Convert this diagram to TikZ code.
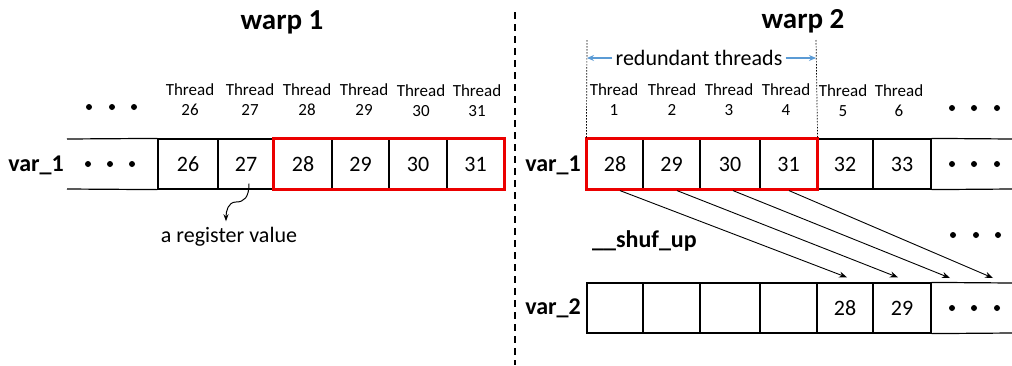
\documentclass[tikz,border=0pt]{standalone}
\usepackage{fontspec}
\setmainfont{Carlito}
\usetikzlibrary{arrows.meta,calc}
\definecolor{bluearr}{RGB}{91,155,213}
\definecolor{redbox}{RGB}{235,0,0}
\begin{document}
\begin{tikzpicture}[x=1pt,y=-1pt,
  cell/.style={draw, line width=1.2pt, minimum height=50pt, inner sep=0pt, font=\fontsize{22}{24}\selectfont},
  thr/.style={align=center, font=\fontsize{17}{20}\selectfont, inner sep=0pt},
  title/.style={font=\fontsize{29}{32}\selectfont\bfseries, inner sep=0pt},
  varlab/.style={font=\fontsize{24}{26}\selectfont\bfseries, inner sep=0pt},
  plain/.style={font=\fontsize{22}{24}\selectfont, inner sep=0pt},
  rowline/.style={line width=1.2pt},
  redframe/.style={draw=redbox, line width=2.6pt},
  shuf/.style={-{Stealth[length=8pt,width=6pt]}, line width=0.9pt},
  bluear/.style={-{Stealth[length=7pt,width=6pt]}, draw=bluearr, line width=1.2pt},
  dotdiv/.style={dash pattern=on 1.5pt off 1.5pt, line width=0.7pt},
  dot/.style={fill=black}
]
\useasboundingbox (0,0) rectangle (1012,365);

% ---------- warp 1 ----------
\node[title] (w1) at (282,22) {warp 1};
\node[varlab, anchor=east] (lv1) at (64,165) {var\_1};

\node[cell, minimum width=60pt] (c26) at (188,164) {26};
\node[cell, minimum width=56pt] (c27) at (246,164) {27};
\node[cell, minimum width=58pt] (c28) at (303,164) {28};
\node[cell, minimum width=57pt] (c29) at (360.5,164) {29};
\node[cell, minimum width=58pt] (c30) at (418,164) {30};
\node[cell, minimum width=57pt] (c31) at (475.5,164) {31};
\draw[redframe] (c28.north west) rectangle (c31.south east);
\coordinate (lstartT) at (67,139);
\coordinate (lstartB) at (67,189);
\draw[rowline] (lstartT) -- (c26.north west);
\draw[rowline] (lstartB) -- (c26.south west);

\node[thr] (t26) at (190,100) {Thread\\26};
\node[thr] (t27) at (250,100) {Thread\\27};
\node[thr] (t28) at (307,100) {Thread\\28};
\node[thr] (t29) at (364,100) {Thread\\29};
\node[thr] (t30) at (421,101) {Thread\\30};
\node[thr] (t31) at (477,101) {Thread\\31};

\foreach \x in {89,112,134} \fill[dot] (\x,107) circle (3);
\foreach \x in {88,110,132} \fill[dot] (\x,164) circle (3);

\node[plain] (reg) at (229,237) {a register value};
\draw[-{Stealth[length=7pt,width=5pt]}, line width=1pt] ($(c27.south)+(3,-6)$)
  .. controls +(0,14) and +(8,0) .. (236,202)
  .. controls +(-8,0) and +(0,-10) .. ($(reg.north)+(-3,-6)$);

% ---------- divider ----------
\coordinate (dtop) at (515,12);
\coordinate (dbot) at (515,365);
\draw[dash pattern=on 7pt off 5pt, line width=1.3pt] (dtop) -- (dbot);

% ---------- warp 2 ----------
\node[title] (w2) at (803,21) {warp 2};
\node[varlab, anchor=east] (rv1) at (581,165) {var\_1};
\node[varlab, anchor=east] (rv2) at (581,308) {var\_2};

\node[cell, minimum width=56pt] (r28) at (615,164) {28};
\node[cell, minimum width=57pt] (r29) at (671.5,164) {29};
\node[cell, minimum width=60pt] (r30) at (730,164) {30};
\node[cell, minimum width=57pt] (r31) at (788.5,164) {31};
\node[cell, minimum width=56pt] (r32) at (845,164) {32};
\node[cell, minimum width=58pt] (r33) at (902,164) {33};
\coordinate (rendT) at (1012,139);
\coordinate (rendB) at (1012,189);
\draw[rowline] (r33.north east) -- (rendT);
\draw[rowline] (r33.south east) -- (rendB);
\draw[redframe] (r28.north west) rectangle (r31.south east);

\node[cell, minimum width=56pt] (v1) at (615,308) {};
\node[cell, minimum width=57pt] (v2) at (671.5,308) {};
\node[cell, minimum width=60pt] (v3) at (730,308) {};
\node[cell, minimum width=57pt] (v4) at (788.5,308) {};
\node[cell, minimum width=56pt] (v5) at (845,308) {28};
\node[cell, minimum width=58pt] (v6) at (902,308) {29};
\coordinate (vendT) at (1012,283);
\coordinate (vendB) at (1012,333);
\draw[rowline] (v6.north east) -- (vendT);
\draw[rowline] (v6.south east) -- (vendB);

\node[thr] (t1) at (614,100) {Thread\\1};
\node[thr] (t2) at (672,100) {Thread\\2};
\node[thr] (t3) at (729,100) {Thread\\3};
\node[thr] (t4) at (786,100) {Thread\\4};
\node[thr] (t5) at (843,101) {Thread\\5};
\node[thr] (t6) at (899,101) {Thread\\6};

\foreach \x in {952,974,997} \fill[dot] (\x,108) circle (3);
\foreach \x in {952,974,997} \fill[dot] (\x,164) circle (3);
\foreach \x in {953,976,998} \fill[dot] (\x,235) circle (3);
\foreach \x in {952,974,997} \fill[dot] (\x,308) circle (3);

% redundant threads
\coordinate (dl1) at (587,40);
\coordinate (dl2) at (816,40);
\draw[dotdiv] (dl1) -- (r28.north west);
\draw[dotdiv] (dl2) -- (r31.north east);
\node[plain] (rt) at (699,58) {redundant threads};
\draw[bluear] ($(rt.west)+(-3,0)$) -- (dl1 |- rt.west);
\draw[bluear] ($(rt.east)+(3,0)$) -- (dl2 |- rt.east);

\node[varlab, anchor=west] (shuf) at (592,241) {\_\_shuf\_up};

\coordinate (e3) at (950,278);
\coordinate (e4) at (993,278);
\draw[shuf] ($(r28.south)+(5,1)$) -- ($(v5.north)+(2,-5)$);
\draw[shuf] ($(r29.south)+(5.5,1)$) -- ($(v6.north)+(-4,-5)$);
\draw[shuf] ($(r30.south)+(3,1)$) -- (e3);
\draw[shuf] ($(r31.south)+(0.5,1)$) -- (e4);
\end{tikzpicture}
\end{document}
